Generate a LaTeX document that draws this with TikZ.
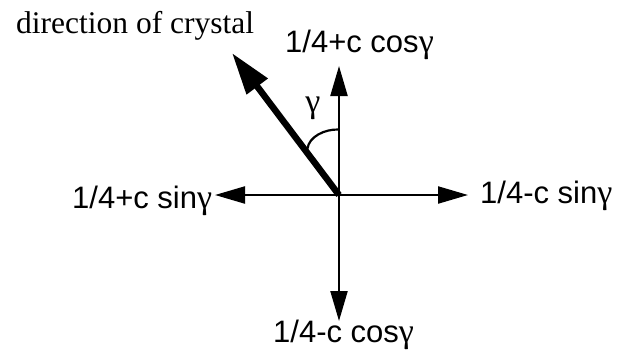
\documentclass[tikz,border=0pt]{standalone}
\usepackage{fontspec}
\setmainfont{Liberation Serif}
\setsansfont{Liberation Sans}
\newfontfamily\gfont{Liberation Serif}
\usetikzlibrary{arrows.meta}
\tikzset{
  axis/.style={line width=2.2pt, -{Triangle[length=30pt,width=17pt]}},
  crystal/.style={line width=6.5pt, -{Triangle[length=42pt,width=25pt]}},
  lab/.style={inner sep=0pt, anchor=base west, font=\sffamily\fontsize{31}{36}\selectfont},
  serlab/.style={inner sep=0pt, anchor=base west, font=\rmfamily\fontsize{31.5}{36}\selectfont},
}
\newcommand{\gam}{{\gfont\fontsize{34}{36}\selectfont γ}}
\begin{document}
\begin{tikzpicture}[x=1pt,y=-1pt]
\useasboundingbox (0,0) rectangle (626,351);
\coordinate (O) at (339,195);
\coordinate (T) at (339,66);
\coordinate (B) at (339,321);
\coordinate (L) at (215,195);
\coordinate (R) at (468,195);
\coordinate (C) at (232,53);
\coordinate (A1) at (339,129.5);
\coordinate (A2) at (307.5,148.5);
\draw[axis] (O) -- (T);
\draw[axis] (O) -- (B);
\draw[axis] (O) -- (L);
\draw[axis] (O) -- (R);
\draw[crystal] (O) -- (C);
\draw[line width=2.2pt] (A1) .. controls (324,129) and (309,137) .. (A2);
\node[serlab] (dir) at (16,33) {direction of crystal};
\node[lab] (top) at (285,52) {1/4+c cos\gam};
\node[lab] (left) at (72,208) {1/4+c sin\gam};
\node[lab] (right) at (480,203) {1/4-c sin\gam};
\node[lab] (bot) at (273,342) {1/4-c cos\gam};
\node[inner sep=0pt, font=\gfont\fontsize{34}{36}\selectfont] (g) at (313,108) {γ};
\end{tikzpicture}
\end{document}
